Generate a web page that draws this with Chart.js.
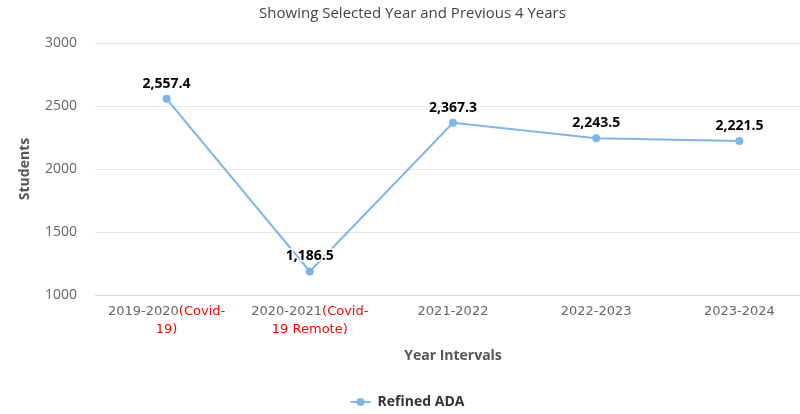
<!DOCTYPE html>
<html lang="en">
<head>
    <meta charset="UTF-8">
    <title>Refined ADA</title>
    <script src="https://cdn.jsdelivr.net/npm/chart.js"></script>
    <style>
        html, body { margin: 0; padding: 0; background: #fff; overflow: hidden; }
        .chart { width: 800px; height: 414px; overflow: hidden; }
    </style>
</head>
<body>
    <div class="chart">
        <canvas id="myChart" width="815" height="414"></canvas>
    </div>

<script>
    // dados do grafico
    var anos = ['2019-2020', '2020-2021', '2021-2022', '2022-2023', '2023-2024']
    var notas = ['(Covid-19)', '(Covid-19 Remote)', '', '', '']
    var refinedAda = [2557.4, 1186.5, 2367.3, 2243.5, 2221.5]
    var yTicks = [1000, 1500, 2000, 2500, 3000]
    var serieNome = 'Refined ADA'

    var corLinha = '#7cb5ec'
    var fonte = '"Open Sans", sans-serif'

    // rotulos do eixo x em duas cores (ano cinza, nota vermelha)
    const rotulosX = {
        id: 'rotulosX',
        afterDraw(chart) {
            const ctx = chart.ctx
            const x = chart.scales.x
            ctx.save()
            ctx.font = '13px "DejaVu Sans", sans-serif'
            ctx.textBaseline = 'middle'
            ctx.textAlign = 'left'
            for (var i = 0; i < anos.length; i++) {
                var px = x.getPixelForValue(i)
                var nota = notas[i]
                var parte1 = nota, parte2 = ''
                var corte = nota.indexOf('-')
                if (corte >= 0) {
                    parte1 = nota.slice(0, corte + 1)
                    parte2 = nota.slice(corte + 1)
                }
                var w1 = ctx.measureText(anos[i]).width
                var w2 = ctx.measureText(parte1).width
                var inicio = px - (w1 + w2) / 2
                ctx.fillStyle = '#666666'
                ctx.fillText(anos[i], inicio, x.top + 17)
                ctx.fillStyle = '#ff0000'
                ctx.fillText(parte1, inicio + w1, x.top + 17)
                if (parte2) {
                    ctx.textAlign = 'center'
                    ctx.fillText(parte2, px, x.top + 35)
                    ctx.textAlign = 'left'
                }
            }
            ctx.restore()
        }
    }

    // valores em cima dos pontos
    const valores = {
        id: 'valores',
        afterDatasetsDraw(chart) {
            const ctx = chart.ctx
            const meta = chart.getDatasetMeta(0)
            ctx.save()
            ctx.font = 'bold 14px ' + fonte
            ctx.textAlign = 'center'
            ctx.textBaseline = 'middle'
            ctx.lineJoin = 'round'
            meta.data.forEach(function (p, i) {
                var txt = refinedAda[i].toLocaleString('en-US', { minimumFractionDigits: 1, maximumFractionDigits: 1 })
                ctx.strokeStyle = '#ffffff'
                ctx.lineWidth = 3
                ctx.strokeText(txt, p.x, p.y - 15)
                ctx.fillStyle = '#000000'
                ctx.fillText(txt, p.x, p.y - 15)
            })
            ctx.restore()
        }
    }

    // legenda no estilo linha + marcador
    const legenda = {
        id: 'legenda',
        afterDraw(chart) {
            const ctx = chart.ctx
            ctx.save()
            ctx.font = 'bold 14px ' + fonte
            var wTexto = ctx.measureText(serieNome).width
            var total = 20 + 7 + wTexto
            var x0 = chart.width / 2 - total / 2
            var y = chart.height - 12
            ctx.strokeStyle = corLinha
            ctx.lineWidth = 2
            ctx.beginPath()
            ctx.moveTo(x0, y)
            ctx.lineTo(x0 + 20, y)
            ctx.stroke()
            ctx.fillStyle = corLinha
            ctx.beginPath()
            ctx.arc(x0 + 10, y, 4, 0, Math.PI * 2)
            ctx.fill()
            ctx.fillStyle = '#333333'
            ctx.textBaseline = 'middle'
            ctx.fillText(serieNome, x0 + 27, y)
            ctx.restore()
        }
    }

    let dados = {
        labels: anos,
        datasets: [{
            label: serieNome,
            data: refinedAda,
            borderColor: corLinha,
            backgroundColor: corLinha,
            borderWidth: 2,
            pointRadius: 4,
            pointHoverRadius: 4,
            pointBackgroundColor: corLinha,
            pointBorderWidth: 0,
            tension: 0,
            fill: false
        }]
    }

    const config = {
        type: 'line',
        data: dados,
        options: {
            responsive: false,
            animation: false,
            layout: { padding: { left: 0, right: -10, top: 0, bottom: 40 } },
            plugins: {
                legend: { display: false },
                tooltip: { enabled: false },
                title: {
                    display: true,
                    text: 'Showing Selected Year and Previous 4 Years',
                    color: '#444444',
                    font: { family: fonte, size: 15, weight: 'normal' },
                    padding: { top: 5, bottom: 20 }
                }
            },
            scales: {
                x: {
                    type: 'category',
                    offset: true,
                    grid: { display: false, drawTicks: false },
                    border: { display: true, color: '#ccd6eb', width: 1 },
                    ticks: { display: false },
                    title: {
                        display: true,
                        text: 'Year Intervals',
                        color: '#555555',
                        font: { family: fonte, size: 14, weight: 'bold' },
                        padding: { top: 0, bottom: 10 }
                    },
                    afterFit(scale) { scale.height = 79 }
                },
                y: {
                    min: yTicks[0],
                    max: yTicks[yTicks.length - 1],
                    afterBuildTicks(scale) { scale.ticks = yTicks.map(v => ({ value: v })) },
                    grid: { color: '#e6e6e6', drawTicks: false },
                    border: { display: false },
                    ticks: {
                        color: '#666666',
                        padding: 18,
                        font: { family: fonte, size: 14 },
                        callback: v => String(v)
                    },
                    title: {
                        display: true,
                        text: 'Students',
                        color: '#555555',
                        font: { family: fonte, size: 14, weight: 'bold' },
                        padding: { top: 17, bottom: 0 }
                    },
                    afterFit(scale) { scale.width = 95 }
                }
            }
        },
        plugins: [valores, rotulosX, legenda]
    }

    let myChart = new Chart(document.getElementById('myChart'), config)
</script>
</body>
</html>
